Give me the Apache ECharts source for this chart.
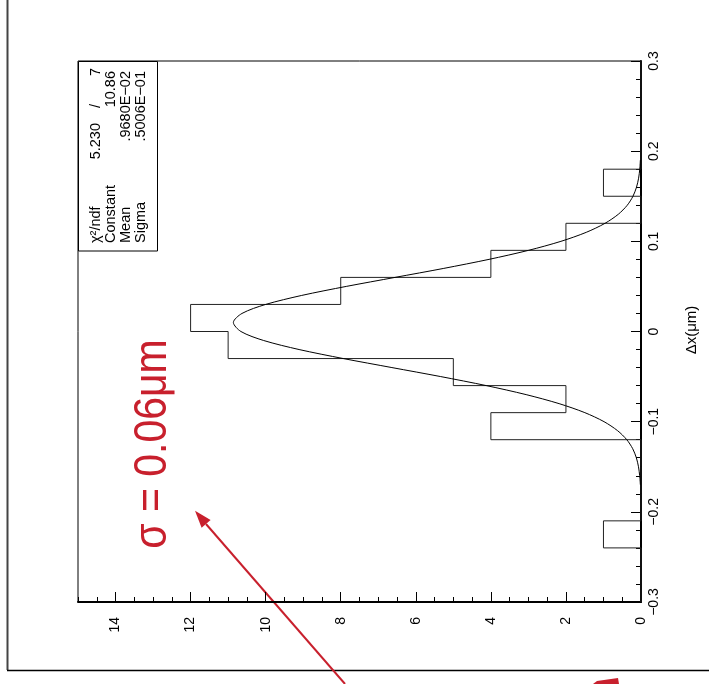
<!DOCTYPE html>
<html><head><meta charset="utf-8">
<script src="https://cdn.jsdelivr.net/npm/echarts@6/dist/echarts.min.js"></script>
<style>html,body{margin:0;padding:0;background:#fff}#c{width:709px;height:684px}</style>
</head><body><div id="c"></div>
<script>
// Histogram of Δx (μm): bin edges and counts
const binEdges = [-0.30,-0.27,-0.24,-0.21,-0.18,-0.15,-0.12,-0.09,-0.06,-0.03,0.00,0.03,0.06,0.09,0.12,0.15,0.18,0.21,0.24,0.27,0.30];
const binCounts = [0,0,1,0,0,0,4,2,5,11,12,8,4,2,0,1,0,0,0,0];
// Gaussian fit curve
const fitX = [-0.17,-0.16,-0.15,-0.14,-0.13,-0.12,-0.11,-0.10,-0.09,-0.08,-0.07,-0.06,-0.05,-0.04,-0.03,-0.02,-0.01,0.00,0.01,0.02,0.03,0.04,0.05,0.06,0.07,0.08,0.09,0.10,0.11,0.12,0.13,0.14,0.15,0.16,0.17,0.18,0.19];
const fitY = [0.017,0.035,0.067,0.124,0.221,0.379,0.624,0.985,1.496,2.182,3.060,4.122,5.336,6.637,7.932,9.109,10.052,10.659,10.860,10.632,10.001,9.040,7.852,6.553,5.254,4.049,2.998,2.133,1.458,0.958,0.605,0.367,0.214,0.120,0.064,0.033,0.017];
// Stats box
const statLabels = ['\u03C7\u00B2/ndf','Constant','Mean','Sigma'];
const statValues = ['7','10.86','.9680E\u221202','.5006E\u221201'];
const chiValue = '5.230';
const annotation = '\u03C3 = 0.06\u03BCm';
const axisTitle = '\u0394x(\u03BCm)';

const stair = [];
for (let i = 0; i < binCounts.length; i++) {
  stair.push([binCounts[i], binEdges[i]]);
  stair.push([binCounts[i], binEdges[i+1]]);
}
const fitData = fitX.map((x, i) => [fitY[i], x]);

const FONT = 'Liberation Sans, Arial, Helvetica, sans-serif';
const RED = '#c8202d';
const fmtDx = v => Math.abs(v) < 1e-9 ? '0' : (v < 0 ? '\u2212' : '') + Math.abs(v).toFixed(1);

const chart = echarts.init(document.getElementById('c'), null, {renderer: 'canvas'});

const statTexts = [];
const cols = [96, 111, 126, 141];
statLabels.forEach((t, i) => {
  statTexts.push({type:'text', x: cols[i], y: 243, rotation: Math.PI/2,
    style:{text:t, font:'14.5px ' + FONT, fill:'#000', align:'left', verticalAlign:'middle'}});
  statTexts.push({type:'text', x: cols[i], y: i === 0 ? 68 : 71, rotation: Math.PI/2,
    style:{text:statValues[i], font:'14.5px ' + FONT, fill:'#000', align:'right', verticalAlign:'middle'}});
});
statTexts.push({type:'text', x: cols[0], y: 123, rotation: Math.PI/2,
  style:{text:chiValue, font:'14.5px ' + FONT, fill:'#000', align:'right', verticalAlign:'middle'}});
statTexts.push({type:'text', x: cols[0], y: 106, rotation: Math.PI/2,
  style:{text:'/', font:'14.5px ' + FONT, fill:'#000', align:'center', verticalAlign:'middle'}});

chart.setOption({
  animation: false,
  backgroundColor: '#fff',
  grid: {left: 78, right: 68, top: 61, bottom: 82, show: true, borderColor: '#000', borderWidth: 1},
  xAxis: [
    {type:'value', inverse:true, min:0, max:15, interval:2, position:'bottom',
     axisLine:{show:true, onZero:false, lineStyle:{color:'#000', width:2}},
     axisTick:{show:true, inside:true, length:10, lineStyle:{color:'#000', width:1}},
     axisLabel:{show:true, rotate:90, margin:15, showMaxLabel:false, color:'#000', fontSize:14, fontFamily:FONT},
     splitLine:{show:false}},
    {type:'value', inverse:true, min:0, max:15, interval:0.5, position:'bottom',
     axisLine:{show:false, onZero:false},
     axisTick:{show:true, inside:true, length:5, lineStyle:{color:'#000', width:1}},
     axisLabel:{show:false}, splitLine:{show:false}}
  ],
  yAxis: [
    {type:'value', min:-0.3, max:0.3, interval:0.1, position:'right',
     axisLine:{show:true, onZero:false, lineStyle:{color:'#000', width:2}},
     axisTick:{show:true, inside:true, length:10, lineStyle:{color:'#000', width:1}},
     axisLabel:{show:true, rotate:90, margin:6, color:'#000', fontSize:14, fontFamily:FONT, formatter: fmtDx},
     splitLine:{show:false}},
    {type:'value', min:-0.3, max:0.3, interval:0.02, position:'right',
     axisLine:{show:false, onZero:false},
     axisTick:{show:true, inside:true, length:5, lineStyle:{color:'#000', width:1}},
     axisLabel:{show:false}, splitLine:{show:false}}
  ],
  series: [
    {type:'line', xAxisIndex:0, yAxisIndex:0, data: stair, showSymbol:false, symbol:'none', clip:false,
     lineStyle:{color:'#222', width:1}, silent:true},
    {type:'line', xAxisIndex:0, yAxisIndex:0, data: fitData, showSymbol:false, symbol:'none', smooth:0.3, clip:false,
     lineStyle:{color:'#000', width:1}, silent:true}
  ],
  graphic: [
    {type:'line', shape:{x1:7.5, y1:0, x2:7.5, y2:670}, style:{stroke:'#444', lineWidth:2}},
    {type:'line', shape:{x1:7, y1:670.5, x2:709, y2:670.5}, style:{stroke:'#000', lineWidth:1.5}},
    {type:'rect', shape:{x:78.5, y:61.5, width:79, height:189.5}, style:{fill:'#fff', stroke:'#000', lineWidth:1}},
    ...statTexts,
    {type:'text', x: 692, y: 330, rotation: Math.PI/2,
     style:{text:axisTitle, font:'15px ' + FONT, fill:'#000', align:'center', verticalAlign:'middle'}},
    {type:'text', x: 153, y: 444, rotation: Math.PI/2, scaleX: 0.89,
     style:{text:annotation, font:'46px ' + FONT, fill:RED, align:'center', verticalAlign:'middle'}},
    {type:'line', shape:{x1:345, y1:684, x2:206, y2:524}, style:{stroke:RED, lineWidth:2}},
    {type:'polygon', shape:{points:[[195,510.7],[210.6,520.0],[201.6,527.8]]}, style:{fill:RED}},
    {type:'polygon', shape:{points:[[593,684],[597,681],[618,678],[619,684]]}, style:{fill:RED}}
  ]
});
</script></body></html>
